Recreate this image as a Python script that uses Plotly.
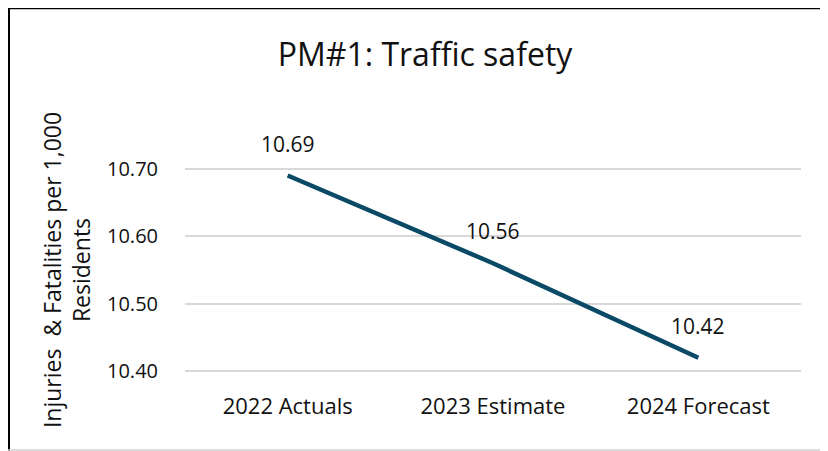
import plotly.graph_objects as go

categories = ["2022 Actuals", "2023 Estimate", "2024 Forecast"]
values = [10.69, 10.56, 10.42]
y_ticks = [10.40, 10.50, 10.60, 10.70]
y_tick_labels = ["10.40", "10.50", "10.60", "10.70"]
y_range = [10.39, 10.71]

# the page body adds an 8px offset; layout numbers below are in figure pixels
OFF = 8
W, H = 828 - OFF, 451 - OFF
L, R = 177, W - 793
T = 154.3
B = H - 369.7
pw, ph = W - L - R, H - T - B

def px_x(px):
    return (px - OFF - L) / pw

def px_y(py):
    return (H - B - (py - OFF)) / ph

FONT = "Open Sans"
TXT = "#111111"

fig = go.Figure()
fig.add_trace(go.Scatter(
    x=categories, y=values, mode="lines",
    line=dict(color="#0B4A66", width=4.5),
    cliponaxis=False, showlegend=False, hoverinfo="x+y",
))

annotations = [
    dict(x=c, y=v, xref="x", yref="y", text=f"{v:.2f}", showarrow=False,
         yshift=32, font=dict(family=FONT, size=21, color=TXT))
    for c, v in zip(categories, values)
]

fig.update_layout(
    width=W, height=H,
    margin=dict(l=L, r=R, t=T, b=B, autoexpand=False),
    paper_bgcolor="white", plot_bgcolor="white",
    title=dict(text="PM#1: Traffic safety", x=px_x(425), xref="paper", xanchor="center",
               y=1 - (55 - OFF) / H, yanchor="middle",
               font=dict(family=FONT, size=32, color=TXT)),
    font=dict(family=FONT, color=TXT),
    annotations=annotations,
    xaxis=dict(type="category", range=[-0.5, 2.5], showgrid=False, showline=False,
               zeroline=False, ticks="", tickfont=dict(size=22, color=TXT),
               ticklabelstandoff=13, automargin=False),
    yaxis=dict(range=y_range, tickvals=y_ticks, ticktext=y_tick_labels,
               showgrid=True, gridcolor="#d9d9d9", gridwidth=1.5, zeroline=False,
               showline=False, ticks="", tickfont=dict(size=20, color=TXT),
               ticklabelstandoff=26, automargin=False,
               title=dict(text="Injuries  & Fatalities per 1,000<br>Residents",
                          font=dict(size=23, color=TXT), standoff=9)),
    shapes=[
        dict(type="line", xref="paper", yref="paper", x0=px_x(6), x1=px_x(W + 30),
             y0=px_y(8), y1=px_y(8), line=dict(color="black", width=4)),
        dict(type="line", xref="paper", yref="paper", x0=px_x(8), x1=px_x(8),
             y0=px_y(6), y1=px_y(H + 30), line=dict(color="black", width=4)),
        dict(type="line", xref="paper", yref="paper", x0=px_x(8), x1=px_x(W + 30),
             y0=px_y(449.5), y1=px_y(449.5), line=dict(color="#d0d0d0", width=1.5)),
    ],
)

fig.write_html("out.html")
